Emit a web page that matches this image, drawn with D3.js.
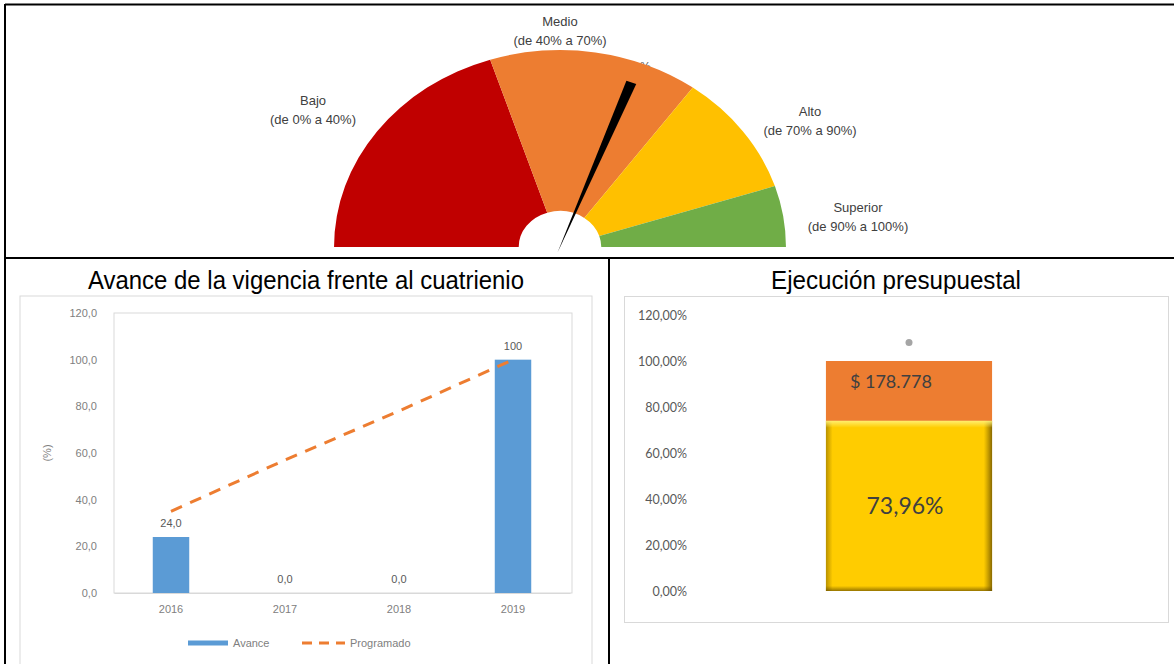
<!DOCTYPE html>
<html>
<head>
<meta charset="utf-8">
<script src="https://cdn.jsdelivr.net/npm/d3@7"></script>
<style>
  body { margin: 0; background: #fff; }
  svg { display: block; }
</style>
</head>
<body>
<div id="container"></div>
<script>
// gauge bands
let bandNames = ["Bajo", "Medio", "Alto", "Superior"];
let bandRanges = ["(de 0% a 40%)", "(de 40% a 70%)", "(de 70% a 90%)", "(de 90% a 100%)"];
let bandFrom = [0, 40, 70, 90];
let bandTo = [40, 70, 90, 100];
let bandColors = ["#C00000", "#ED7D31", "#FFC000", "#70AD47"];
let needleValue = 61.5;

// avance chart
let years = ["2016", "2017", "2018", "2019"];
let avance = [24, 0, 0, 100];
let avanceLabels = ["24,0", "0,0", "0,0", "100"];
let programado = [35, 57, 78, 100];
let avanceTicks = [0, 20, 40, 60, 80, 100, 120];

// ejecucion chart
let ejecutado = 0.7396;
let porEjecutar = 0.2604;
let ejecutadoLabel = "73,96%";
let porEjecutarLabel = "$ 178.778";
let marcador = 1.08;
let ejecTicks = [0, 0.2, 0.4, 0.6, 0.8, 1.0, 1.2];

let svg = d3.select("#container")
  .append("svg")
  .attr("width", 1174)
  .attr("height", 664);

let defs = svg.append("defs");

// ---------- frame lines ----------
svg.append("line").attr("x1", 5).attr("x2", 1174).attr("y1", 4.5).attr("y2", 4.5)
  .attr("stroke", "#000").attr("stroke-width", 2);
svg.append("line").attr("x1", 5).attr("x2", 5).attr("y1", 4).attr("y2", 664)
  .attr("stroke", "#000").attr("stroke-width", 2);
svg.append("line").attr("x1", 5).attr("x2", 1174).attr("y1", 258).attr("y2", 258)
  .attr("stroke", "#000").attr("stroke-width", 2);
svg.append("line").attr("x1", 609).attr("x2", 609).attr("y1", 258).attr("y2", 664)
  .attr("stroke", "#000").attr("stroke-width", 2);

// ---------- gauge ----------
let cx = 560, cy = 247;
let angle = d3.scaleLinear().domain([0, 100]).range([-Math.PI / 2, Math.PI / 2]);

// needle value label sits partly behind the arc
svg.append("text")
  .text(d3.format(".1f")(needleValue).replace(".", ",") + " %")
  .attr("x", cx + 72).attr("y", 71)
  .attr("text-anchor", "middle")
  .attr("font-family", "Liberation Sans, Arial")
  .attr("font-size", 12)
  .attr("fill", "#595959");

let gauge = svg.append("g")
  .attr("transform", "translate(" + cx + "," + cy + ") scale(1.147,1)");

let arc = d3.arc().innerRadius(36).outerRadius(197);

gauge.selectAll(".band")
  .data(bandNames)
  .enter()
  .append("path")
  .attr("class", "band")
  .attr("d", (d, i) => arc({ startAngle: angle(bandFrom[i]), endAngle: angle(bandTo[i]) }))
  .attr("fill", (d, i) => bandColors[i]);

// needle
let a = angle(needleValue);
function polar(r, ang) {
  return [r * Math.sin(ang), -r * Math.cos(ang)];
}
let tipL = polar(176, a - 0.026);
let tipR = polar(176, a + 0.026);
let base = polar(-6, a);
gauge.append("path")
  .attr("d", "M" + base + "L" + tipL + "L" + tipR + "Z")
  .attr("fill", "#000");

let labelPos = [[313, 101], [560, 22], [810, 112], [858, 208]];
let glabels = svg.selectAll(".glabel")
  .data(bandNames)
  .enter()
  .append("g")
  .attr("class", "glabel");
glabels.append("text")
  .text(d => d)
  .attr("x", (d, i) => labelPos[i][0])
  .attr("y", (d, i) => labelPos[i][1] + 4)
  .attr("text-anchor", "middle")
  .attr("font-family", "Liberation Sans, Arial")
  .attr("font-size", 13)
  .attr("fill", "#404040");
glabels.append("text")
  .text((d, i) => bandRanges[i])
  .attr("x", (d, i) => labelPos[i][0])
  .attr("y", (d, i) => labelPos[i][1] + 23)
  .attr("text-anchor", "middle")
  .attr("font-family", "Liberation Sans, Arial")
  .attr("font-size", 13)
  .attr("fill", "#404040");

// ---------- avance chart ----------
svg.append("text")
  .text("Avance de la vigencia frente al cuatrienio")
  .attr("x", 306).attr("y", 289)
  .attr("text-anchor", "middle")
  .attr("textLength", 436)
  .attr("lengthAdjust", "spacingAndGlyphs")
  .attr("font-family", "Liberation Sans, Arial")
  .attr("font-size", 25)
  .attr("fill", "#000");

svg.append("rect")
  .attr("x", 20).attr("y", 296).attr("width", 572).attr("height", 400)
  .attr("fill", "none").attr("stroke", "#D9D9D9");

let x = d3.scaleBand().domain(years).range([114, 570]).paddingInner(0.68).paddingOuter(0.34);
let y = d3.scaleLinear().domain([0, 120]).range([593, 313]);

svg.append("rect")
  .attr("x", 114).attr("y", y(120)).attr("width", 458).attr("height", y(0) - y(120))
  .attr("fill", "none").attr("stroke", "#D9D9D9");

let fmt1 = v => d3.format(".1f")(v).replace(".", ",");

let yAxis = svg.append("g")
  .attr("transform", "translate(114,0)")
  .call(d3.axisLeft(y).tickValues(avanceTicks).tickFormat(fmt1).tickSize(0).tickPadding(17));
yAxis.select(".domain").remove();
yAxis.selectAll("text")
  .attr("font-family", "Liberation Sans, Arial")
  .attr("font-size", 11)
  .attr("fill", "#808080");

let xAxis = svg.append("g")
  .attr("transform", "translate(0," + y(0) + ")")
  .call(d3.axisBottom(x).tickSize(0).tickPadding(12));
xAxis.select(".domain").attr("stroke", "#D9D9D9");
xAxis.selectAll("text")
  .attr("font-family", "Liberation Sans, Arial")
  .attr("font-size", 11)
  .attr("fill", "#808080");

svg.append("text")
  .text("(%)")
  .attr("transform", "translate(51," + y(60) + ") rotate(-90)")
  .attr("text-anchor", "middle")
  .attr("font-family", "Liberation Sans, Arial")
  .attr("font-size", 11)
  .attr("fill", "#808080");

svg.selectAll(".bar")
  .data(avance)
  .enter()
  .append("rect")
  .attr("class", "bar")
  .attr("x", (d, i) => x(years[i]))
  .attr("y", d => y(d))
  .attr("width", x.bandwidth())
  .attr("height", d => y(0) - y(d))
  .attr("fill", "#5B9BD5");

let line = d3.line()
  .x((d, i) => x(years[i]) + x.bandwidth() / 2)
  .y(d => y(d));
svg.append("path")
  .datum(programado)
  .attr("d", line)
  .attr("fill", "none")
  .attr("stroke", "#ED7D31")
  .attr("stroke-width", 3)
  .attr("stroke-dasharray", "12,9");

svg.selectAll(".vlabel")
  .data(avance)
  .enter()
  .append("text")
  .attr("class", "vlabel")
  .text((d, i) => avanceLabels[i])
  .attr("x", (d, i) => x(years[i]) + x.bandwidth() / 2)
  .attr("y", d => y(d) - 10)
  .attr("text-anchor", "middle")
  .attr("font-family", "Liberation Sans, Arial")
  .attr("font-size", 11)
  .attr("fill", "#595959");

// legend
let legend = svg.append("g").attr("transform", "translate(0,643)");
legend.append("line").attr("x1", 188).attr("x2", 228).attr("y1", 0).attr("y2", 0)
  .attr("stroke", "#5B9BD5").attr("stroke-width", 5);
legend.append("text").text("Avance").attr("x", 233).attr("y", 4)
  .attr("font-family", "Liberation Sans, Arial").attr("font-size", 11).attr("fill", "#808080");
legend.append("line").attr("x1", 302).attr("x2", 345).attr("y1", 0).attr("y2", 0)
  .attr("stroke", "#ED7D31").attr("stroke-width", 3).attr("stroke-dasharray", "10,7");
legend.append("text").text("Programado").attr("x", 350).attr("y", 4)
  .attr("font-family", "Liberation Sans, Arial").attr("font-size", 11).attr("fill", "#808080");

// ---------- ejecucion chart ----------
svg.append("text")
  .text("Ejecución presupuestal")
  .attr("x", 896).attr("y", 289)
  .attr("text-anchor", "middle")
  .attr("textLength", 250)
  .attr("lengthAdjust", "spacingAndGlyphs")
  .attr("font-family", "Liberation Sans, Arial")
  .attr("font-size", 25)
  .attr("fill", "#000");

svg.append("rect")
  .attr("x", 624.5).attr("y", 296.5).attr("width", 544).attr("height", 326)
  .attr("fill", "none").attr("stroke", "#D9D9D9");

let ey = d3.scaleLinear().domain([0, 1.2]).range([591, 315]);
let ex = d3.scaleBand().domain(["Ejecución"]).range([690, 1128]).paddingInner(0.45).paddingOuter(0.45);

let fmtPct = v => d3.format(".2f")(v * 100).replace(".", ",") + "%";
let eAxis = svg.append("g")
  .attr("transform", "translate(687,0)")
  .call(d3.axisLeft(ey).tickValues(ejecTicks).tickFormat(fmtPct).tickSize(0).tickPadding(0));
eAxis.select(".domain").remove();
eAxis.selectAll("text")
  .attr("font-family", "Lato, Open Sans, sans-serif")
  .attr("font-size", 12.5)
  .attr("fill", "#595959");

// gradients for bevel look
let gH = defs.append("linearGradient").attr("id", "bevelH").attr("x1", 0).attr("x2", 1).attr("y1", 0).attr("y2", 0);
gH.append("stop").attr("offset", "0%").attr("stop-color", "#8a6a00").attr("stop-opacity", 0.6);
gH.append("stop").attr("offset", "4%").attr("stop-color", "#8a6a00").attr("stop-opacity", 0);
gH.append("stop").attr("offset", "95%").attr("stop-color", "#8a6a00").attr("stop-opacity", 0);
gH.append("stop").attr("offset", "100%").attr("stop-color", "#6a5000").attr("stop-opacity", 0.8);
let gV = defs.append("linearGradient").attr("id", "bevelV").attr("x1", 0).attr("x2", 0).attr("y1", 0).attr("y2", 1);
gV.append("stop").attr("offset", "0%").attr("stop-color", "#fff27a").attr("stop-opacity", 0.9);
gV.append("stop").attr("offset", "4%").attr("stop-color", "#fff27a").attr("stop-opacity", 0);
gV.append("stop").attr("offset", "97%").attr("stop-color", "#6a5000").attr("stop-opacity", 0);
gV.append("stop").attr("offset", "100%").attr("stop-color", "#6a5000").attr("stop-opacity", 0.7);

let bx = ex("Ejecución"), bw = ex.bandwidth();

svg.append("rect")
  .attr("x", bx).attr("y", ey(ejecutado + porEjecutar))
  .attr("width", bw).attr("height", ey(ejecutado) - ey(ejecutado + porEjecutar))
  .attr("fill", "#ED7D31");

["#FFCC00", "url(#bevelH)", "url(#bevelV)"].forEach(f => {
  svg.append("rect")
    .attr("x", bx).attr("y", ey(ejecutado))
    .attr("width", bw).attr("height", ey(0) - ey(ejecutado))
    .attr("fill", f);
});

svg.append("circle")
  .attr("cx", bx + bw / 2).attr("cy", ey(marcador))
  .attr("r", 3.5)
  .attr("fill", "#A5A5A5");

svg.append("text")
  .text(porEjecutarLabel)
  .attr("x", bx + 24).attr("y", ey(ejecutado + porEjecutar / 2) - 3)
  .attr("font-family", "Lato, Open Sans, sans-serif")
  .attr("font-size", 18)
  .attr("fill", "#404040");

svg.append("text")
  .text(ejecutadoLabel)
  .attr("x", bx + bw / 2 - 4).attr("y", ey(ejecutado / 2) + 8)
  .attr("text-anchor", "middle")
  .attr("font-family", "Lato, Open Sans, sans-serif")
  .attr("font-size", 23)
  .attr("fill", "#404040");
</script>
</body>
</html>
